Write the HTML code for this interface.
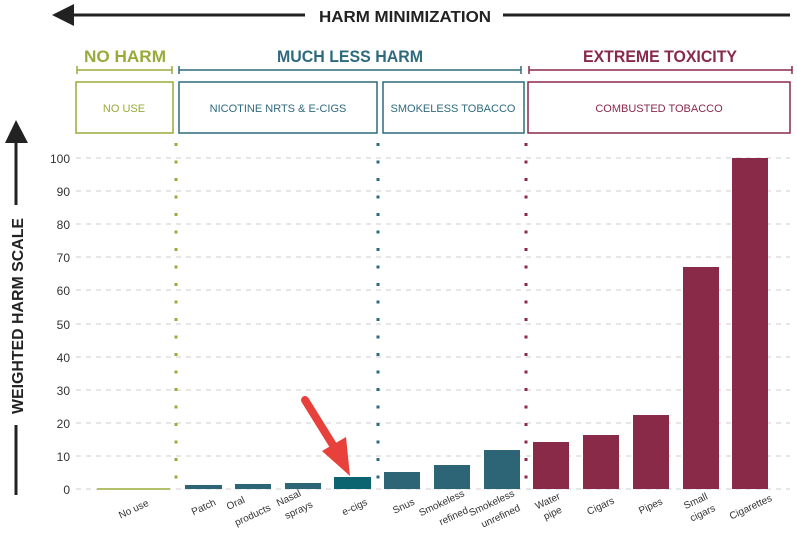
<!DOCTYPE html>
<html><head><style>body{margin:0;background:#fff}svg{display:block}</style></head>
<body>
<svg width="797" height="551" xmlns="http://www.w3.org/2000/svg" font-family="Liberation Sans, sans-serif">
<rect width="797" height="551" fill="#fff"/>
<polygon points="52,15 74,4 74,26" fill="#222"/>
<line x1="70" y1="15" x2="305" y2="15" stroke="#222" stroke-width="3"/>
<text x="405" y="22" font-size="16" font-weight="bold" fill="#222" text-anchor="middle" textLength="172" lengthAdjust="spacingAndGlyphs">HARM MINIMIZATION</text>
<line x1="503" y1="15" x2="790" y2="15" stroke="#222" stroke-width="3"/>
<text x="125" y="62" font-size="17" font-weight="bold" fill="#9aaa3a" text-anchor="middle" textLength="82" lengthAdjust="spacingAndGlyphs">NO HARM</text>
<text x="350" y="62" font-size="17" font-weight="bold" fill="#2e6a7e" text-anchor="middle" textLength="146" lengthAdjust="spacingAndGlyphs">MUCH LESS HARM</text>
<text x="660" y="62" font-size="17" font-weight="bold" fill="#882a48" text-anchor="middle" textLength="154" lengthAdjust="spacingAndGlyphs">EXTREME TOXICITY</text>
<g stroke-width="1.5">
<path d="M77,70H172M77,66V74M172,66V74" stroke="#9aaa3a"/>
<path d="M179,70H521M179,66V74M521,66V74" stroke="#2e6a7e"/>
<path d="M529,70H792M529,66V74M792,66V74" stroke="#882a48"/>
<rect x="76" y="82" width="97" height="51" fill="none" stroke="#9aaa3a"/>
<rect x="179" y="82" width="198" height="51" fill="none" stroke="#2e6a7e"/>
<rect x="383" y="82" width="141" height="51" fill="none" stroke="#2e6a7e"/>
<rect x="528" y="82" width="262" height="51" fill="none" stroke="#882a48"/>
</g>
<g font-size="11">
<text x="124" y="112" fill="#9aaa3a" text-anchor="middle">NO USE</text>
<text x="278" y="112" fill="#2e6a7e" text-anchor="middle">NICOTINE NRTS &amp; E-CIGS</text>
<text x="453" y="112" fill="#2e6a7e" text-anchor="middle">SMOKELESS TOBACCO</text>
<text x="659" y="112" fill="#882a48" text-anchor="middle">COMBUSTED TOBACCO</text>
</g>
<polygon points="16,120 5,143 28,143" fill="#222"/>
<line x1="16" y1="142" x2="16" y2="205" stroke="#222" stroke-width="3"/>
<text transform="translate(23,316) rotate(-90)" font-size="16" font-weight="bold" fill="#222" text-anchor="middle" textLength="196" lengthAdjust="spacingAndGlyphs">WEIGHTED HARM SCALE</text>
<line x1="16" y1="425" x2="16" y2="495" stroke="#222" stroke-width="3"/>
<g stroke="#ccc" stroke-dasharray="5,5" stroke-width="1">
<line x1="76" x2="790" y1="158" y2="158"/><line x1="76" x2="790" y1="191" y2="191"/>
<line x1="76" x2="790" y1="224" y2="224"/><line x1="76" x2="790" y1="257" y2="257"/>
<line x1="76" x2="790" y1="290" y2="290"/><line x1="76" x2="790" y1="324" y2="324"/>
<line x1="76" x2="790" y1="357" y2="357"/><line x1="76" x2="790" y1="390" y2="390"/>
<line x1="76" x2="790" y1="423" y2="423"/><line x1="76" x2="790" y1="456" y2="456"/>
<line x1="76" x2="790" y1="489" y2="489"/>
</g>
<g font-size="12" fill="#333" text-anchor="end">
<text x="70" y="163">100</text><text x="70" y="196">90</text><text x="70" y="229">80</text>
<text x="70" y="262">70</text><text x="70" y="295">60</text><text x="70" y="329">50</text>
<text x="70" y="362">40</text><text x="70" y="395">30</text><text x="70" y="428">20</text>
<text x="70" y="461">10</text><text x="70" y="494">0</text>
</g>
<line x1="176" y1="143" x2="176" y2="491" stroke="#9aaa3a" stroke-width="3" stroke-dasharray="3,14.5"/>
<line x1="378" y1="143" x2="378" y2="491" stroke="#2e6a7e" stroke-width="3" stroke-dasharray="3,14.5"/>
<line x1="526" y1="143" x2="526" y2="491" stroke="#882a48" stroke-width="3" stroke-dasharray="3,14.5"/>
<line x1="97" y1="489" x2="170" y2="489" stroke="#9aaa3a" stroke-width="1.5"/>
<g fill="#2d6577">
<rect x="185" y="485" width="37" height="4"/>
<rect x="235" y="484" width="36" height="5"/>
<rect x="285" y="483" width="36" height="6"/>
<rect x="384" y="472" width="36" height="17"/>
<rect x="434" y="465" width="36" height="24"/>
<rect x="484" y="450" width="36" height="39"/>
</g>
<rect x="334" y="477" width="37" height="12" fill="#0c6470"/>
<g fill="#882a48">
<rect x="533" y="442" width="36" height="47"/>
<rect x="583" y="435" width="36" height="54"/>
<rect x="633" y="415" width="36" height="74"/>
<rect x="683" y="267" width="36" height="222"/>
<rect x="732" y="158" width="36" height="331"/>
</g>
<line x1="305" y1="400" x2="336" y2="450" stroke="#e8403a" stroke-width="8" stroke-linecap="round"/>
<polygon points="350,476 322,451 346,437" fill="#e8403a"/>
<g font-size="10" fill="#333" text-anchor="middle">
<text transform="translate(135,512) rotate(-25)">No use</text>
<text transform="translate(205,510) rotate(-25)">Patch</text>
<text transform="translate(237,506) rotate(-25)">Oral</text>
<text transform="translate(254,518) rotate(-25)">products</text>
<text transform="translate(290,501) rotate(-25)">Nasal</text>
<text transform="translate(300,513) rotate(-25)">sprays</text>
<text transform="translate(356,510) rotate(-25)">e-cigs</text>
<text transform="translate(405,509) rotate(-25)">Snus</text>
<text transform="translate(443,506) rotate(-25)">Smokeless</text>
<text transform="translate(455,519) rotate(-25)">refined</text>
<text transform="translate(493,506) rotate(-25)">Smokeless</text>
<text transform="translate(502,519) rotate(-25)">unrefined</text>
<text transform="translate(549,504) rotate(-25)">Water</text>
<text transform="translate(554,516) rotate(-25)">pipe</text>
<text transform="translate(602,509) rotate(-25)">Cigars</text>
<text transform="translate(652,509) rotate(-25)">Pipes</text>
<text transform="translate(697,504) rotate(-25)">Small</text>
<text transform="translate(704,516) rotate(-25)">cigars</text>
<text transform="translate(752,510) rotate(-25)">Cigarettes</text>
</g>
</svg>
</body></html>
